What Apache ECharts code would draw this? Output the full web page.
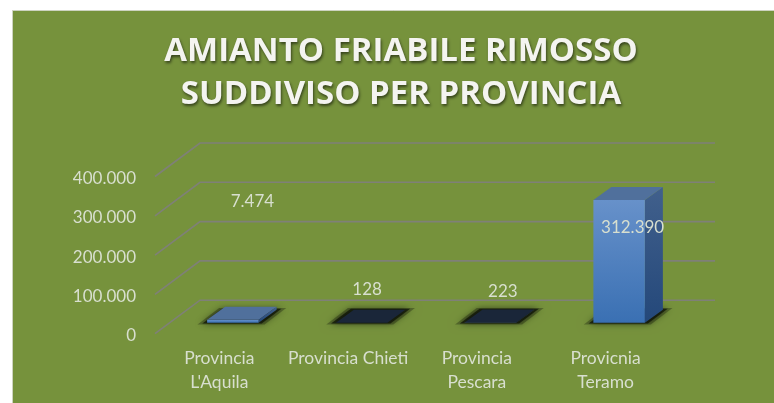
<!DOCTYPE html>
<html>
<head>
<meta charset="utf-8">
<style>
    html, body { margin: 0; padding: 0; background: #fff; }
    #chart { width: 774px; height: 403px; }
</style>
<script src="https://cdn.jsdelivr.net/npm/echarts@6/dist/echarts.min.js"></script>
</head>
<body>
<div id="chart"></div>
<script>
// Data
const categories = ["Provincia\nL'Aquila", "Provincia Chieti", "Provincia\nPescara", "Provicnia\nTeramo"];
const values = [7474, 128, 223, 312390];
const yTicks = [0, 100000, 200000, 300000, 400000];

// Fake 3D look
const WALL_DX = 45, WALL_DY = -33.5;      // depth of the floor
const BAR_DX = 18, BAR_DY = -13;          // depth of a bar
const BAR_SHIFT_X = 13.5, BAR_SHIFT_Y = -11;
const BAR_WIDTH = 0.4;                    // share of the band
const topColors = ["#50709c", "#1a2639", "#1a2639", "#50709c"];
// label position relative to the band centre at value 0
const labelShift = [[33, -132], [19, -44], [26, -42], [27, -106]];

const LABEL_COLOR = "#d8dfcf";
const FONT = "Lato, 'Open Sans', sans-serif";

function fmt(v) {
    return String(v).replace(/\B(?=(\d{3})+$)/g, ".");
}

function renderGrid(params, api) {
    const y = api.coord([0, api.value(1)])[1];
    const box = params.coordSys;
    return {
        type: "polyline",
        shape: {
            points: [
                [box.x, y],
                [box.x + WALL_DX, y + WALL_DY],
                [box.x + box.width + WALL_DX, y + WALL_DY],
            ],
        },
        style: { stroke: "#7f8078", lineWidth: 1.6, fill: null },
    };
}

// dark patch on the floor under a bar, grown by m pixels
function floorShadow(x0, x1, y0, m, alpha, blur) {
    return {
        type: "polygon",
        shape: {
            points: [
                [x0 - m * 1.6, y0 + m * 0.3],
                [x1 + m, y0 + m * 0.3],
                [x1 + BAR_DX + m * 1.6, y0 + BAR_DY - m * 0.3],
                [x0 + BAR_DX - m, y0 + BAR_DY - m * 0.3],
            ],
        },
        style: { fill: "rgba(10,14,5," + alpha + ")", shadowBlur: blur, shadowColor: "rgba(0,0,0," + alpha + ")" },
    };
}

function renderBar(params, api) {
    const i = api.value(0);
    const base = api.coord([i, 0]);
    const top = api.coord([i, api.value(1)]);
    const w = api.size([1, 0])[0] * BAR_WIDTH;
    const x0 = base[0] + BAR_SHIFT_X - w / 2;
    const x1 = x0 + w;
    const y0 = base[1] + BAR_SHIFT_Y;
    const y1 = top[1] + BAR_SHIFT_Y;
    const dx = BAR_DX, dy = BAR_DY;

    return {
        type: "group",
        children: [
            floorShadow(x0, x1, y0, 6, 0.3, 9),
            floorShadow(x0, x1, y0, 3, 0.7, 6),
            {
                type: "polygon",
                shape: { points: [[x1, y0], [x1 + dx, y0 + dy], [x1 + dx, y1 + dy], [x1, y1]] },
                style: {
                    fill: new echarts.graphic.LinearGradient(0, 0, 0, 1, [
                        { offset: 0, color: "#41608c" },
                        { offset: 1, color: "#24487a" },
                    ]),
                },
            },
            {
                type: "rect",
                shape: { x: x0, y: y1, width: w, height: y0 - y1 },
                style: {
                    fill: new echarts.graphic.LinearGradient(0, 0, 0, 1, [
                        { offset: 0, color: "#6791ca" },
                        { offset: 1, color: "#3a70b3" },
                    ]),
                },
            },
            {
                type: "polygon",
                shape: { points: [[x0, y1], [x1, y1], [x1 + dx, y1 + dy], [x0 + dx, y1 + dy]] },
                style: { fill: topColors[i] },
            },
            {
                type: "text",
                x: base[0] + labelShift[i][0],
                y: base[1] + labelShift[i][1],
                style: {
                    text: fmt(api.value(1)),
                    fill: LABEL_COLOR,
                    font: "17px " + FONT,
                    align: "center",
                    verticalAlign: "middle",
                },
            },
        ],
    };
}

const chart = echarts.init(document.getElementById("chart"));
chart.setOption({
    animation: false,
    graphic: [
        {
            type: "rect",
            z: -10,
            shape: { x: 12.5, y: 10.5, width: 780, height: 410 },
            style: { fill: "#76923c", stroke: "#cdd3c0", lineWidth: 1 },
        },
    ],
    title: {
        text: "AMIANTO FRIABILE RIMOSSO\nSUDDIVISO PER PROVINCIA",
        left: 396,
        top: 25,
        textAlign: "center",
        textStyle: {
            color: "#f4f4f0",
            fontFamily: "'Open Sans', Lato, sans-serif",
            fontWeight: "bold",
            fontSize: 33,
            lineHeight: 43,
            textShadowColor: "rgba(0,0,0,0.55)",
            textShadowBlur: 3,
            textShadowOffsetX: 1,
            textShadowOffsetY: 2,
        },
    },
    grid: { left: 155, right: 104, top: 176.5, bottom: 69.3 },
    xAxis: {
        type: "category",
        data: categories,
        axisLine: { show: false },
        axisTick: { show: false },
        axisLabel: {
            color: LABEL_COLOR,
            fontFamily: FONT,
            fontSize: 17.5,
            lineHeight: 24,
            margin: 13,
            interval: 0,
        },
    },
    yAxis: {
        type: "value",
        min: 0,
        max: 400000,
        interval: 100000,
        splitLine: { show: false },
        axisLine: { show: false },
        axisTick: { show: false },
        axisLabel: {
            margin: 19,
            formatter: (v) => "{a|" + fmt(v) + "}",
            rich: {
                a: {
                    color: LABEL_COLOR,
                    fontFamily: FONT,
                    fontSize: 17,
                    padding: [4, 0, 0, 0],
                },
            },
        },
    },
    series: [
        {
            type: "custom",
            z: 1,
            silent: true,
            clip: false,
            renderItem: renderGrid,
            data: yTicks.map((v) => [0, v]),
        },
        {
            type: "custom",
            z: 2,
            silent: true,
            clip: false,
            renderItem: renderBar,
            data: values.map((v, i) => [i, v]),
        },
    ],
});
</script>
</body>
</html>
